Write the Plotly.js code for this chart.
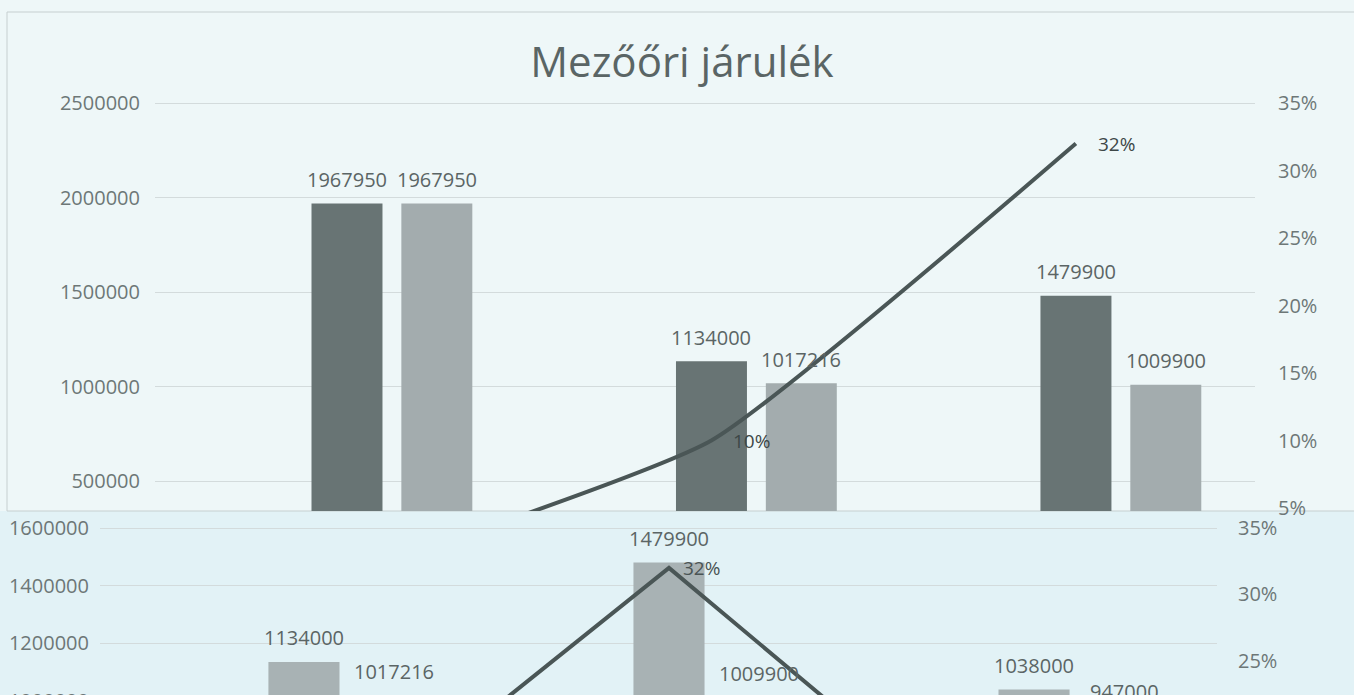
<!DOCTYPE html>
<html>
<head>
<meta charset="utf-8">
<script src="https://cdn.plot.ly/plotly-3.0.1.min.js"></script>
<style>
  html, body { margin: 0; padding: 0; background: #eef7f8; overflow: hidden; }
  #wrap { width: 1354px; height: 695px; overflow: hidden; position: relative; }
  #chart { width: 1354px; height: 900px; }
</style>
</head>
<body>
<div id="wrap"><div id="chart"></div></div>
<script>
// ---- data ----
const categoriesTop = ['I.', 'II.', 'III.'];
const categoriesBottom = ['II.', 'III.', 'IV.'];
const seriesDueTop = [1967950, 1134000, 1479900];
const seriesPaidTop = [1967950, 1017216, 1009900];
const seriesDiffTop = [0, 10, 32];           // %
const seriesDueBottom = [1134000, 1479900, 1038000];
const seriesPaidBottom = [1017216, 1009900, 947000];
const seriesDiffBottom = [10, 32, 9];        // %
const leftTicksTop = [500000, 1000000, 1500000, 2000000, 2500000];
const leftTicksBottom = [1000000, 1200000, 1400000, 1600000];
const pctTicks = [0, 5, 10, 15, 20, 25, 30, 35];
const pctTickText = pctTicks.map(v => v + '%');
const titleText = 'Mezőőri járulék';

// ---- geometry ----
const W = 1354, H = 900;
const FONT = 'Open Sans, sans-serif';
const px2y = p => 1 - p / H;
const px2x = p => p / W;

const lblFont = {family: FONT, size: 20, color: '#5b6565'};
const tickFont = {family: FONT, size: 20, color: '#6d7777'};

const topShift = 45 / 364.5;
const topRange = [-0.650, 2.368];
const botShift = 45 / 365;
const botRange = [-0.682, 2.378];
const topPctRange = [4.78, 35.15];
const botPctRange = [20.56, 35.15];

const traces = [
  {type: 'bar', x: categoriesTop, y: seriesDueTop, xaxis: 'x', yaxis: 'y',
   marker: {color: '#687474'}, hoverinfo: 'none'},
  {type: 'bar', x: categoriesTop, y: seriesPaidTop, xaxis: 'x', yaxis: 'y',
   marker: {color: '#a3acae'}, hoverinfo: 'none'},
  {type: 'scatter', mode: 'lines', x: categoriesTop, y: seriesDiffTop,
   xaxis: 'x3', yaxis: 'y2', line: {color: '#4a5656', width: 4, shape: 'spline', smoothing: 0.45},
   hoverinfo: 'none'},
  {type: 'bar', x: categoriesBottom, y: seriesDueBottom, xaxis: 'x2', yaxis: 'y3',
   marker: {color: '#a8b2b4'}, hoverinfo: 'none'},
  {type: 'bar', x: categoriesBottom, y: seriesPaidBottom, xaxis: 'x2', yaxis: 'y3',
   marker: {color: '#b7c0c2'}, hoverinfo: 'none'},
  {type: 'scatter', mode: 'lines', x: categoriesBottom, y: seriesDiffBottom,
   xaxis: 'x4', yaxis: 'y4', line: {color: '#4a5656', width: 4},
   hoverinfo: 'none'}
];

// value labels, built from the series arrays
const annotations = [];
function addBarLabels(cats, vals, xref, yref, xshift) {
  cats.forEach((c, i) => annotations.push({
    x: c, y: vals[i], xref: xref, yref: yref, text: String(vals[i]),
    showarrow: false, xshift: xshift, yshift: 24, yanchor: 'middle', font: lblFont
  }));
}
function addLineLabels(cats, vals, xref, yref, range, xshift, color) {
  cats.forEach((c, i) => {
    if (vals[i] < range[0] || vals[i] > range[1]) return; // outside the plot: hidden, as in the chart
    annotations.push({
      x: c, y: vals[i], xref: xref, yref: yref, text: vals[i] + '%',
      showarrow: false, xshift: xshift, xanchor: 'left', yanchor: 'middle',
      font: {family: FONT, size: 19, color: color}
    });
  });
}
addBarLabels(categoriesTop, seriesDueTop, 'x', 'y', -45);
addBarLabels(categoriesTop, seriesPaidTop, 'x', 'y', 45);
addBarLabels(categoriesBottom, seriesDueBottom, 'x2', 'y3', -45);
addBarLabels(categoriesBottom, seriesPaidBottom, 'x2', 'y3', 45);
addLineLabels(categoriesTop, seriesDiffTop, 'x3', 'y2', topPctRange, 20, '#3d4747');
addLineLabels(categoriesBottom, seriesDiffBottom, 'x4', 'y4', botPctRange, 12, '#4a5454');

const layout = {
  width: W, height: H,
  margin: {l: 0, r: 0, t: 0, b: 0},
  paper_bgcolor: '#eef7f8', plot_bgcolor: 'rgba(0,0,0,0)',
  showlegend: false,
  barmode: 'group', bargap: 0.507, bargroupgap: 0.21,
  title: {text: titleText, x: px2x(682), xref: 'container', xanchor: 'center',
          y: px2y(62), yref: 'container', yanchor: 'middle',
          font: {family: FONT, size: 42, color: '#5a6565'}},
  xaxis: {domain: [px2x(155), px2x(1255)], anchor: 'y', type: 'category',
          range: topRange, visible: false},
  yaxis: {domain: [px2y(511), px2y(101)], anchor: 'x', range: [341270, 2510600],
          tickvals: leftTicksTop, tickformat: 'd', tickfont: tickFont,
          gridcolor: '#d3dbdc', gridwidth: 1, zeroline: false, showline: false,
          ticks: '', ticklabelstandoff: 14},
  xaxis3: {overlaying: 'x', anchor: 'y2', type: 'category',
           range: [topRange[0] + topShift, topRange[1] + topShift], visible: false},
  yaxis2: {overlaying: 'y', side: 'right', anchor: 'x', range: topPctRange,
           tickvals: pctTicks, ticktext: pctTickText, tickfont: tickFont,
           showgrid: false, zeroline: false, showline: false, ticks: '', ticklabelstandoff: 22},
  xaxis2: {domain: [px2x(100), px2x(1217)], anchor: 'y3', type: 'category',
           range: botRange, visible: false},
  yaxis3: {domain: [px2y(720), px2y(526)], anchor: 'x2', range: [932177, 1606960],
           tickvals: leftTicksBottom, tickformat: 'd', tickfont: tickFont,
           gridcolor: '#d3dbdc', gridwidth: 1, zeroline: false, showline: false,
           ticks: '', ticklabelstandoff: 10},
  xaxis4: {overlaying: 'x2', anchor: 'y4', type: 'category',
           range: [botRange[0] + botShift, botRange[1] + botShift], visible: false},
  yaxis4: {overlaying: 'y3', side: 'right', anchor: 'x2', range: botPctRange,
           tickvals: pctTicks, ticktext: pctTickText, tickfont: tickFont,
           showgrid: false, zeroline: false, showline: false, ticks: '', ticklabelstandoff: 20},
  annotations: annotations,
  shapes: [
    {type: 'rect', xref: 'paper', yref: 'paper', x0: 0, x1: 1, y0: 0, y1: px2y(511),
     fillcolor: '#e2f2f6', line: {width: 0}, layer: 'below'},
    {type: 'rect', xref: 'paper', yref: 'paper', x0: px2x(7), x1: 1.01, y0: px2y(511), y1: px2y(12),
     fillcolor: 'rgba(0,0,0,0)', line: {color: '#c6cfd0', width: 1}, layer: 'below'}
  ]
};

Plotly.newPlot('chart', traces, layout, {displayModeBar: false, staticPlot: true});
</script>
</body>
</html>
